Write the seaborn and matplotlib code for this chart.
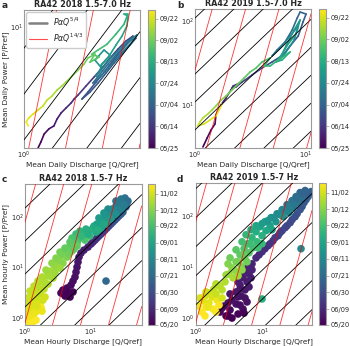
import numpy as np
import matplotlib
matplotlib.use("Agg")
import matplotlib.pyplot as plt
import seaborn as sns
import pandas as pd
from matplotlib.collections import LineCollection
from matplotlib.lines import Line2D
from matplotlib.colors import Normalize
from matplotlib.cm import ScalarMappable
from matplotlib.ticker import NullFormatter

sns.set_style("white")
plt.rcParams['font.family'] = ['DejaVu Sans']

# ---------------- data ----------------
titles = ["RA42 2018 1.5-7.0 Hz", "RA42 2019 1.5-7.0 Hz", "RA42 2018 1.5-7 Hz", "RA42 2019 1.5-7 Hz"]
panel_letters = ["a", "b", "c", "d"]

daily_ticks = [145, 165, 185, 205, 225, 245, 265]
daily_ticklabels = ["05/25", "06/14", "07/04", "07/24", "08/13", "09/02", "09/22"]
hourly_ticks = [140, 160, 181, 202, 223, 244, 265, 285, 306]
hourly_ticklabels = ["05/20", "06/09", "06/30", "07/21", "08/11", "09/01", "09/22", "10/12", "11/02"]

# panel a: daily 2018 (day of year, Q/Qref, P/Pref)
a_doy = [145, 147, 149, 151, 153, 155, 157, 159, 161, 163,
         165, 166, 167, 168, 169, 170, 171, 172, 173, 174, 175, 176, 177, 178, 179, 180,
         181, 182, 183, 184, 185, 186, 187, 188, 189, 190, 191, 192, 193, 194, 195,
         196, 197, 198, 199, 200, 201, 202, 203, 204, 205,
         207, 209, 211, 213, 215, 217, 219, 221, 223, 225, 226, 227, 229, 231, 233,
         235, 237, 239, 241, 243, 245,
         247, 249, 251, 253, 255, 257, 259, 261, 263, 265, 267, 269, 271, 273]
a_q = [1.29, 1.36, 1.44, 1.57, 1.72, 1.82, 1.96, 2.14, 2.35, 2.48,
       2.66, 3.08, 3.56, 4.11, 4.76, 5.50, 6.35, 7.21, 6.59, 5.70, 4.93, 4.27, 3.69, 3.19, 2.86, 3.31,
       3.83, 4.42, 5.11, 5.91, 6.84, 7.62, 6.96, 6.13, 5.30, 4.59, 3.97, 3.49, 3.97, 4.59, 5.30,
       6.13, 7.09, 7.76, 7.09, 6.24, 5.40, 4.67, 4.04, 3.69, 3.97,
       4.11, 4.76, 4.27, 3.62, 3.97, 4.58, 5.30, 5.91, 6.47, 6.59, 6.13, 6.59, 6.13, 5.30, 4.50,
       3.83, 3.43, 3.90, 3.31, 3.62, 3.19,
       2.97, 2.66, 2.39, 2.14, 1.99, 1.82, 1.66, 1.52, 1.41, 1.29, 1.18, 1.09, 1.04, 1.08]
a_p = [1.27, 1.41, 1.61, 1.76, 1.85, 2.08, 2.31, 2.51, 2.74, 2.93,
       3.13, 3.66, 4.26, 4.97, 5.89, 6.87, 7.88, 8.58, 7.74, 6.53, 5.51, 4.64, 3.91, 3.30, 2.93, 3.30,
       3.85, 4.56, 5.41, 6.31, 7.36, 8.29, 8.01, 7.11, 6.20, 5.32, 4.49, 3.85, 4.26, 4.97, 5.79,
       6.76, 7.74, 8.73, 8.29, 7.48, 6.53, 5.70, 4.80, 4.33, 4.80,
       5.32, 6.21, 6.77, 5.70, 5.14, 5.90, 7.36, 8.58, 10.2, 12.1, 12.5, 12.5, 10.5, 8.88, 7.46,
       6.77, 6.31, 6.00, 5.50, 6.31, 5.90,
       5.32, 4.80, 4.33, 3.91, 3.66, 3.41, 3.08, 2.88, 2.60, 2.43, 2.27, 2.12, 1.98, 1.85]

# panel b: daily 2019
b_doy = [145, 147, 149, 151, 153, 155, 157, 159, 161, 163, 165, 167, 169, 171, 173, 175, 177, 179,
         181, 183, 185, 187, 189, 191, 193, 195, 197, 199, 201, 203, 205, 207, 209,
         211, 213, 215, 217, 219, 221, 223, 225, 227, 229, 231, 233, 235,
         237, 239, 241, 243, 245, 247, 249,
         251, 253, 255, 257, 259, 261, 263, 265, 267, 269, 271, 273]
b_q = [1.18, 1.29, 1.40, 1.52, 1.55, 1.72, 1.91, 2.12, 2.22, 2.67, 2.36, 2.17, 2.85, 3.30, 4.06, 5.01, 6.31, 7.30,
       8.65, 9.56, 10.2, 9.0, 8.45, 7.62, 6.58, 5.56, 5.01, 5.93, 7.30, 8.65, 7.94, 6.71, 5.81,
       6.71, 7.94, 9.0, 8.29, 7.01, 6.18, 5.45, 6.18, 7.30, 5.68, 4.81, 4.24, 4.81,
       4.06, 3.59, 3.16, 2.79, 2.46, 2.17, 1.91,
       1.72, 1.55, 1.43, 1.31, 1.18, 1.11, 1.06, 1.21, 1.37, 1.55, 1.69, 1.76]
b_p = [3.16, 4.05, 5.04, 5.94, 7.61, 10.0, 12.1, 15.1, 16.8, 18.8, 16.4, 15.9, 19.8, 22.8, 27.6, 32.5, 39.4, 50.5,
       66.2, 97.4, 121, 128, 108, 78.1, 56.4, 45.2, 38.3, 47.7, 66.2, 87.0, 59.4, 42.8, 34.4,
       50.5, 78.1, 103, 70.2, 53.3, 40.5, 32.5, 34.4, 42.8, 34.4, 29.1, 29.1, 36.3,
       32.5, 27.6, 24.7, 20.9, 17.8, 15.1, 12.8,
       11.4, 9.75, 8.74, 7.82, 7.00, 6.27, 5.62, 5.94, 6.63, 7.40, 9.22, 10.3]

# panel c: hourly 2018
c_doy = [140, 141, 142, 143, 144, 145, 146, 147, 148, 149, 150, 151, 152, 153, 154, 142, 141,
         158, 162, 166, 170, 175, 180, 185, 190, 195, 200,
         160, 164, 168, 172, 177, 182, 187, 192,
         200, 203, 206, 209, 212, 215, 218, 221, 224, 227, 230, 233,
         210, 213, 204, 222, 225, 232, 238, 236, 246, 243,
         247, 244, 240, 234, 228, 219, 214,
         236, 239, 242, 245, 248, 251,
         253, 256, 259, 262, 265, 268, 271,
         255, 252, 260, 258, 266, 268, 272, 250,
         273, 275, 277, 279, 281, 283, 285, 287, 289,
         280, 276, 279, 274, 284, 286, 288, 289,
         291, 293, 295, 296, 297, 298, 299, 300, 301,
         292, 292, 294, 296, 297, 297, 299, 299, 301, 301,
         302, 303, 304, 305, 306, 307, 308, 309, 310, 311, 312, 313, 314, 315, 316,
         303, 305, 308, 308, 311, 312, 313, 314, 316, 317, 317]
c_q = [4.81, 4.04, 3.51, 3.76, 4.33, 4.98, 5.34, 5.72, 5.93, 6.14, 6.36, 6.58, 7.05, 7.83, 9.00, 5.34, 4.49,
       10.0, 11.5, 13.2, 15.2, 17.5, 20.1, 23.1, 26.6, 30.5, 16.9,
       10.7, 12.3, 14.2, 16.3, 18.7, 21.5, 24.8, 28.5,
       33.9, 36.3, 32.7, 28.5, 25.7, 29.5, 23.9, 20.8, 26.6, 22.3, 18.7, 16.3,
       23.9, 27.5, 35.1, 21.5, 18.1, 15.7, 13.2, 16.9, 11.1, 13.7,
       11.9, 14.2, 16.9, 20.1, 23.9, 28.5, 31.6,
       19.4, 14.2, 12.3, 15.7, 10.7, 12.8,
       9.32, 8.11, 9.65, 7.05, 6.36, 8.11, 5.53,
       6.81, 8.40, 5.93, 7.30, 5.16, 6.14, 4.81, 9.00,
       4.81, 6.14, 4.18, 5.16, 3.63, 4.33, 3.16, 3.76, 2.85,
       3.39, 4.04, 4.64, 5.53, 2.95, 3.51, 2.56, 3.05,
       3.39, 2.48, 2.15, 2.66, 1.81, 2.23, 1.57, 1.94, 1.42,
       2.08, 2.85, 2.39, 1.81, 1.57, 2.01, 1.37, 1.75, 1.19, 1.47,
       1.69, 1.23, 1.47, 2.01, 1.11, 1.32, 1.69, 1.07, 1.37, 1.19, 1.52, 1.04, 1.28, 1.07, 1.75,
       1.04, 1.87, 1.19, 1.52, 1.02, 1.81, 1.37, 1.15, 1.02, 1.28, 1.47]
c_p = [2.60, 2.72, 3.12, 3.57, 3.91, 4.48, 5.37, 6.44, 8.07, 10.1, 12.7, 15.9, 19.1, 21.9, 25.1, 3.26, 3.12,
       28.8, 34.5, 41.4, 49.6, 59.5, 71.4, 85.6, 103, 123, 5.37,
       31.5, 37.8, 45.3, 54.3, 65.2, 78.2, 94, 112,
       155, 203, 233, 222, 194, 169, 162, 141, 141, 118, 107, 94,
       203, 177, 185, 135, 141, 118, 94, 82, 65.2, 62.3,
       49.6, 59.5, 71.4, 89.7, 112, 141, 169,
       89.7, 78.2, 71.4, 71.4, 59.5, 54.3,
       52.0, 45.3, 41.4, 39.6, 34.5, 34.5, 30.1,
       52.0, 56.9, 45.3, 41.4, 37.8, 30.1, 31.5, 45.3,
       26.3, 26.3, 21.9, 21.0, 17.4, 15.9, 13.9, 12.1, 10.6,
       20.0, 24.0, 18.3, 23.0, 15.2, 12.7, 12.1, 10.1,
       9.67, 8.45, 6.74, 6.16, 5.37, 4.69, 4.28, 3.74, 3.41,
       8.85, 7.72, 6.74, 6.44, 5.37, 4.91, 4.28, 3.74, 3.41, 3.11,
       2.98, 2.72, 2.48, 2.60, 2.16, 1.98, 1.98, 1.65, 1.57, 1.31, 1.37, 1.10, 1.00, 0.83, 1.65,
       2.48, 2.26, 1.72, 1.72, 1.37, 1.37, 1.20, 1.00, 0.87, 0.80, 0.91]

# panel d: hourly 2019
d_doy = [140, 141, 142, 143, 144, 145, 146, 147, 148, 149, 150, 151, 152, 153, 154, 155, 156, 157, 158,
         140, 142, 143, 146, 147, 149, 148, 150, 151, 153, 154, 155, 156, 157,
         160, 163, 166, 169, 172, 175, 178, 181, 184, 187, 190, 193,
         161, 164, 167, 171, 174, 177, 180, 183, 186, 189, 192, 194,
         196, 199, 202, 205, 208, 211, 214, 217, 220, 223,
         197, 203, 209, 215, 218, 222,
         226, 229, 232, 235, 238, 241, 244,
         228, 233, 238, 243,
         247, 250, 253, 256, 259, 262, 265, 268,
         245, 249, 258, 264, 264, 262, 260,
         271, 274, 277, 280, 283, 286, 289, 292, 295,
         272, 275, 278, 281, 284, 279, 288, 292, 291, 287,
         297, 299, 301, 303, 305, 307, 309, 311, 313, 315, 316, 317, 318,
         299, 298, 304, 308, 303, 306, 312, 312, 316, 318,
         225, 250]
d_q = [3.51, 2.86, 4.33, 2.32, 3.28, 5.15, 2.66, 4.04, 5.91, 3.51, 4.80, 4.04, 5.51, 4.64, 5.91, 5.15, 6.33, 5.91, 7.02,
       3.06, 5.33, 2.49, 4.64, 3.06, 5.51, 4.33, 3.28, 4.64, 6.33, 4.33, 6.79, 5.33, 7.02,
       8.07, 9.93, 12.2, 14.5, 17.3, 19.9, 23.6, 28.1, 33.4, 39.7, 45.6, 50.6,
       8.95, 11.0, 13.1, 15.6, 18.5, 22.1, 26.3, 31.2, 37.1, 42.5, 48.9, 54.2,
       44.1, 37.1, 32.2, 39.7, 28.1, 34.6, 23.6, 29.1, 19.9, 25.3,
       41.1, 33.4, 30.1, 25.3, 22.1, 18.5,
       16.7, 20.6, 13.6, 16.1, 11.0, 13.1, 9.26,
       15.0, 12.2, 9.93, 14.0,
       11.4, 8.07, 9.93, 7.02, 8.35, 6.11, 7.27, 5.33,
       8.07, 6.79, 5.71, 8.64, 4.97, 6.55, 9.93,
       6.33, 4.64, 5.51, 4.04, 4.80, 3.51, 4.18, 3.17, 3.64,
       4.04, 5.33, 3.28, 4.33, 3.06, 5.91, 3.77, 2.86, 4.33, 4.97,
       2.76, 2.32, 1.88, 1.64, 1.38, 1.76, 1.29, 1.58, 2.09, 1.43, 2.24, 1.82, 1.24,
       2.49, 2.02, 1.43, 1.16, 2.02, 2.49, 1.53, 1.08, 2.02, 1.38,
       38.3, 9.93]
d_p = [1.00, 1.10, 1.20, 1.31, 1.44, 1.50, 1.72, 1.89, 2.07, 2.26, 2.72, 3.26, 3.57, 4.48, 5.13, 6.16, 7.38, 9.67, 11.6,
       1.10, 1.25, 1.57, 1.80, 1.98, 2.48, 2.60, 2.98, 3.74, 4.09, 5.13, 6.16, 8.07, 8.85,
       15.2, 20.0, 26.3, 33.0, 41.4, 52.0, 65.2, 85.6, 112, 155, 212, 279,
       17.4, 23.0, 28.8, 37.8, 47.4, 59.5, 74.8, 98, 135, 185, 243, 305,
       320, 292, 243, 243, 203, 185, 169, 148, 135, 118,
       279, 212, 169, 148, 123, 107,
       112, 98, 94, 78.2, 78.2, 65.2, 62.3,
       94, 82, 71.4, 54.3,
       52.0, 49.6, 41.4, 37.8, 31.5, 28.8, 24.0, 23.0,
       65.2, 54.3, 43.3, 24.0, 31.5, 28.8, 28.8,
       19.1, 17.4, 14.6, 12.7, 10.6, 9.67, 8.07, 7.38, 6.16,
       21.9, 17.4, 15.2, 12.7, 11.6, 12.7, 8.85, 7.05, 6.74, 8.85,
       5.13, 4.28, 3.74, 3.11, 2.72, 2.60, 2.16, 1.98, 2.26, 1.65, 1.80, 1.50, 1.31,
       3.57, 4.69, 3.26, 2.48, 2.98, 2.48, 1.65, 1.72, 1.31, 1.10,
       23.0, 2.37]

# ---------------- layout ----------------
W, H = 350, 346
fig = plt.figure(figsize=(W / 100, H / 100), dpi=100)

def px_axes(x0, y0, x1, y1):
    return fig.add_axes([x0 / W, 1 - y1 / H, (x1 - x0) / W, (y1 - y0) / H])

ax_a = px_axes(24, 10, 140, 148)
ax_b = px_axes(195, 9, 311, 148)
ax_c = px_axes(25, 184, 141.7, 325)
ax_d = px_axes(195.7, 183, 312, 325)
cax_a = px_axes(148, 10, 155, 148)
cax_b = px_axes(319, 9, 326, 148)
cax_c = px_axes(148, 184, 155, 325)
cax_d = px_axes(319, 183, 326, 325)

limits = {
    "a": ((1, 8.2), (1.27, 13.4)),
    "b": ((1, 11.3), (3.07, 139)),
    "c": ((1, 58.7), (0.73, 440)),
    "d": ((1, 56), (0.73, 450)),
}
# guide line families: (start, step) in log10 units
black_fam = {"a": (0.844, 0.34), "b": (1.036, 0.333), "c": (0.22, 0.65), "d": (0.26, 0.57)}
red_fam = {"a": (0.015, 0.29), "b": (0.0, 0.303), "c": (0.02, 0.425), "d": (0.02, 0.425)}

spine_col = "#9a9a9a"

def guides(ax, key):
    (x0, x1), (y0, y1) = limits[key]
    q = np.logspace(np.log10(x0), np.log10(x1), 60)
    s, st = black_fam[key]
    for k in range(-15, 16):
        ax.plot(q, 10 ** (s + k * st) * q ** 1.25, color="black", lw=0.6, zorder=3)
    s, st = red_fam[key]
    for k in range(-15, 16):
        ax.plot(q, (q / 10 ** (s + k * st)) ** (14 / 3), color="red", lw=0.6, alpha=0.8, zorder=3)
    ax.set_xscale("log")
    ax.set_yscale("log")
    ax.set_xlim(x0, x1)
    ax.set_ylim(y0, y1)

def style(ax):
    ax.xaxis.set_minor_formatter(NullFormatter())
    ax.yaxis.set_minor_formatter(NullFormatter())
    ax.tick_params(which="both", labelsize=4.8, length=1, width=0.5, color=spine_col, pad=0)
    ax.tick_params(which="minor", length=0.8)
    for sp in ax.spines.values():
        sp.set_color(spine_col)
        sp.set_linewidth(0.8)

norm_daily = Normalize(145, 273)
norm_hourly = Normalize(140, 318)
cmap = plt.get_cmap("viridis")

def daily_lines(ax, q, p, doy):
    pts = np.column_stack([q, p])
    segs = np.stack([pts[:-1], pts[1:]], axis=1)
    lc = LineCollection(segs, cmap=cmap, norm=norm_daily, linewidths=1.2, zorder=2, capstyle="round")
    lc.set_array(np.asarray(doy[:-1], dtype=float))
    ax.add_collection(lc)

for ax, key, q, p, doy in [(ax_a, "a", a_q, a_p, a_doy), (ax_b, "b", b_q, b_p, b_doy)]:
    guides(ax, key)
    daily_lines(ax, q, p, doy)
    style(ax)

for ax, key, q, p, doy in [(ax_c, "c", c_q, c_p, c_doy), (ax_d, "d", d_q, d_p, d_doy)]:
    df = pd.DataFrame({"Q": q, "P": p, "doy": doy})
    sns.scatterplot(data=df, x="Q", y="P", hue="doy", palette="viridis", hue_norm=norm_hourly,
                    s=30, linewidth=0, legend=False, ax=ax, zorder=2)
    guides(ax, key)
    style(ax)
    ax.set_xlabel("")
    ax.set_ylabel("")

for ax, t in zip([ax_a, ax_b, ax_c, ax_d], titles):
    ax.set_title(t, fontsize=5.8, fontweight="bold", pad=2)

lab = dict(fontsize=5.3)
ax_a.set_xlabel("Mean Daily Discharge [Q/Qref]", **lab)
ax_a.set_ylabel("Mean Daily Power [P/Pref]", **lab)
ax_b.set_xlabel("Mean Daily Discharge [Q/Qref]", **lab)
ax_c.set_xlabel("Mean Hourly Discharge [Q/Qref]", **lab)
ax_c.set_ylabel("Mean hourly Power [P/Pref]", **lab)
ax_d.set_xlabel("Mean Hourly Discharge [Q/Qref]", **lab)
ax_a.xaxis.set_label_coords(0.5, -0.095)
ax_b.xaxis.set_label_coords(0.5, -0.095)
ax_c.xaxis.set_label_coords(0.5, -0.093)
ax_d.xaxis.set_label_coords(0.5, -0.093)
ax_a.yaxis.set_label_coords(-0.13, 0.5)
ax_c.yaxis.set_label_coords(-0.135, 0.5)

handles = [Line2D([], [], color="grey", lw=1.8),
           Line2D([], [], color="red", lw=0.8, alpha=0.7)]
ax_a.legend(handles, [r"$P\alpha Q^{5/4}$", r"$P\alpha Q^{14/3}$"], loc="upper left", fontsize=5.6,
            frameon=True, borderpad=0.4, handlelength=2.2, labelspacing=0.3, handletextpad=0.8,
            borderaxespad=0.3, framealpha=1, edgecolor="#cccccc")

for cax, norm, ticks, labels in [(cax_a, norm_daily, daily_ticks, daily_ticklabels),
                                 (cax_b, norm_daily, daily_ticks, daily_ticklabels),
                                 (cax_c, norm_hourly, hourly_ticks, hourly_ticklabels),
                                 (cax_d, norm_hourly, hourly_ticks, hourly_ticklabels)]:
    cb = fig.colorbar(ScalarMappable(norm=norm, cmap=cmap), cax=cax)
    cb.set_ticks(ticks)
    cb.set_ticklabels(labels)
    cb.ax.tick_params(labelsize=4.8, length=2, width=0.5, pad=1.2, color=spine_col)
    cb.outline.set_edgecolor(spine_col)
    cb.outline.set_linewidth(0.8)

for (x, y), letter in zip([(2, 1), (177, 1), (2, 175), (177, 175)], panel_letters):
    fig.text(x / W, 1 - y / H, letter, fontsize=6.5, fontweight="bold", va="top", ha="left")

fig.savefig("out.png", dpi=100)
